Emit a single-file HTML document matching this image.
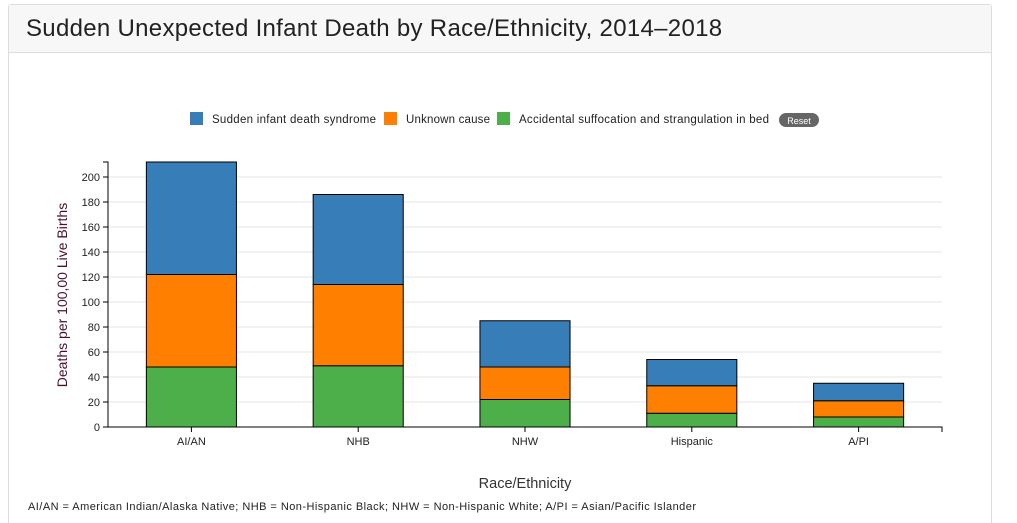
<!DOCTYPE html>
<html style="overflow:hidden;height:523px"><head><meta charset="utf-8"><style>
body{margin:0;width:1017px;height:523px;background:#fff;font-family:"Liberation Sans",sans-serif;overflow:hidden;position:relative}
.card{position:absolute;left:8px;top:4px;width:984px;height:519px;border:1px solid #ddd;border-bottom:none;border-radius:3px 3px 0 0;box-sizing:border-box}
.hdr{height:47px;background:#f7f7f7;border-bottom:1px solid #ddd;font-size:24px;letter-spacing:0.3px;color:#222;line-height:47px;padding-left:17px}
svg{position:absolute;left:0;top:0}
</style></head><body>
<div class="card"><div class="hdr">Sudden Unexpected Infant Death by Race/Ethnicity, 2014–2018</div></div>
<svg id="c" width="1017" height="523"></svg>
<script>
const categories=["AI/AN","NHB","NHW","Hispanic","A/PI"];
const asphyx=[48,49,22,11,8];
const unknown=[74,65,26,22,13];
const sids=[90,72,37,21,14];
const yTicks=[0,20,40,60,80,100,120,140,160,180,200];
const seriesNames=["Sudden infant death syndrome","Unknown cause","Accidental suffocation and strangulation in bed"];
const colors=["#377eb8","#ff7f00","#4daf4a"];
const NS="http://www.w3.org/2000/svg",svg=document.getElementById('c');
const x0=108,x1=942,y0=427,k=1.25;
const y=v=>y0-v*k;
const bw=(x1-x0)/categories.length;
function el(t,a,txt){const e=document.createElementNS(NS,t);for(const q in a)e.setAttribute(q,a[q]);if(txt!=null)e.textContent=txt;svg.appendChild(e);return e;}
yTicks.forEach(t=>{
 if(t>0){const g=el('line',{x1:x0,x2:x1,y1:y(t),y2:y(t),stroke:'#e5e5e5'});}
 el('line',{x1:x0-5,x2:x0,y1:y(t),y2:y(t),stroke:'#000'});
 const l=el('text',{x:x0-8,y:y(t)+4,'text-anchor':'end','font-size':11,fill:'#222'},t);
 
});
categories.forEach((c,i)=>{
 const cx=x0+bw*(i+0.5),w=bw*0.54,bx=cx-w/2;
 let base=0;
 [[asphyx,2],[unknown,1],[sids,0]].forEach(([arr,ci])=>{
  const v=arr[i];
  const r=el('rect',{x:bx,y:y(base+v),width:w,height:v*k,fill:colors[ci],stroke:'#000','stroke-width':1});
  
  
  base+=v;
 });
 el('line',{x1:cx,x2:cx,y1:y0,y2:y0+5,stroke:'#000'});
 const l=el('text',{x:cx,y:y0+18,'text-anchor':'middle','font-size':11,fill:'#222'},c);
 
});
const ax=el('path',{d:`M${x0-5},162H${x0}V${y0}H${x1}V${y0+5}`,fill:'none',stroke:'#000'});

const yt=el('text',{transform:'translate(67,295) rotate(-90)','text-anchor':'middle','font-size':14,fill:'#4a1030'},'Deaths per 100,00 Live Births');

const xt=el('text',{x:525,y:488,'text-anchor':'middle','font-size':14.5,fill:'#333'},'Race/Ethnicity');

const fn=el('text',{x:28,y:510,'font-size':11,fill:'#222',textLength:668,lengthAdjust:'spacing'},'AI/AN = American Indian/Alaska Native; NHB = Non-Hispanic Black; NHW = Non-Hispanic White; A/PI = Asian/Pacific Islander');

const lx=[190,384,497];
const lw=[164,84,250];
seriesNames.forEach((n,i)=>{
 const r=el('rect',{x:lx[i],y:112,width:13,height:13,fill:colors[i]});
 
 const t=el('text',{x:lx[i]+22,y:123,'font-size':11.5,fill:'#222',textLength:lw[i],lengthAdjust:'spacing'},n);
 
});
const rb=el('rect',{x:779,y:113,width:40,height:14,rx:7,fill:'#666'});

const rt=el('text',{x:799,y:124,'text-anchor':'middle','font-size':9,fill:'#fff'},'Reset');

</script>
</body></html>
